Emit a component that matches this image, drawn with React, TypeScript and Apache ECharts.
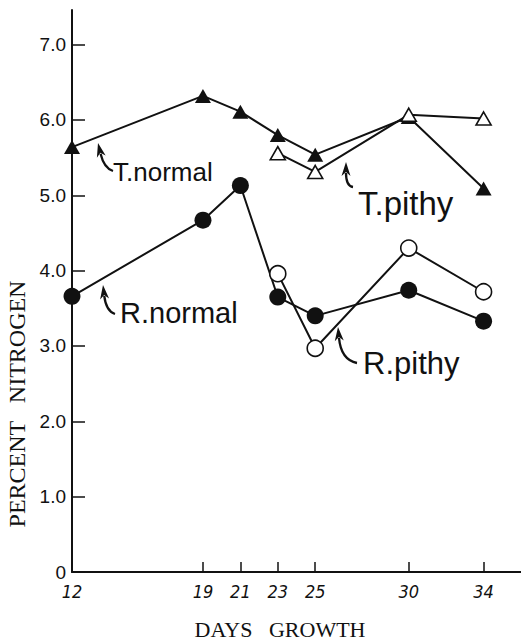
import React, { useEffect, useRef } from "react";
import * as echarts from "echarts";

const days = [12, 19, 21, 23, 25, 30, 34];
const pithyDays = [23, 25, 30, 34];
const tNormal = [5.64, 6.32, 6.11, 5.8, 5.54, 6.04, 5.09];
const tPithy = [5.56, 5.31, 6.07, 6.02];
const rNormal = [3.66, 4.67, 5.13, 3.65, 3.4, 3.74, 3.33];
const rPithy = [3.96, 2.97, 4.3, 3.72];
const yTicks = [0, 1, 2, 3, 4, 5, 6, 7];

const seriesNames = ["T.normal", "T.pithy", "R.normal", "R.pithy"];

function pairs(xs: number[], ys: number[]) {
  return xs.map((x, i) => [x, ys[i]]);
}

function arrow(tail: number[], ctrl: number[], tip: number[]) {
  const dx = tip[0] - ctrl[0];
  const dy = tip[1] - ctrl[1];
  const len = Math.sqrt(dx * dx + dy * dy);
  const ux = dx / len;
  const uy = dy / len;
  const hl = 14;
  const hw = 4.5;
  const bx = tip[0] - ux * hl;
  const by = tip[1] - uy * hl;
  return [
    {
      type: "bezierCurve",
      shape: { x1: tail[0], y1: tail[1], cpx1: ctrl[0], cpy1: ctrl[1], x2: bx + ux * 3, y2: by + uy * 3 },
      style: { stroke: "#111", lineWidth: 2.3, fill: null },
      z: 10,
    },
    {
      type: "polygon",
      shape: {
        points: [
          [tip[0], tip[1]],
          [bx - uy * hw, by + ux * hw],
          [bx + ux * 4, by + uy * 4],
          [bx + uy * hw, by - ux * hw],
        ],
      },
      style: { fill: "#111" },
      z: 10,
    },
  ];
}

const letterFont = "'Liberation Sans', 'DejaVu Sans', sans-serif";

export default function App() {
  const ref = useRef<HTMLDivElement>(null);
  useEffect(() => {
    if (!ref.current) return;
    const chart = echarts.init(ref.current, undefined, { renderer: "svg" });
    const lineStyle = { color: "#111", width: 2 };
    const filled = { color: "#111" };
    const open = { color: "#fff", borderColor: "#111", borderWidth: 1.6 };
    chart.setOption({
      animation: false,
      backgroundColor: "#fff",
      grid: { left: 72, right: 0, top: 10, bottom: 70, containLabel: false, outerBoundsMode: "none" },
      xAxis: {
        type: "value",
        min: 12,
        max: 36,
        axisLine: { show: true, lineStyle: { color: "#111", width: 2 } },
        axisTick: { show: true, inside: true, length: 10, lineStyle: { color: "#111", width: 1.5 }, customValues: days },
        axisLabel: {
          customValues: days,
          margin: 10,
          color: "#111",
          fontSize: 18,
          fontStyle: "italic",
          fontFamily: "'Liberation Sans Narrow', 'DejaVu Sans Condensed', sans-serif",
        },
        splitLine: { show: false },
      },
      yAxis: {
        type: "value",
        min: 0,
        max: 7.46,
        axisLine: { show: true, lineStyle: { color: "#111", width: 2 } },
        axisTick: { show: true, inside: true, length: 13, lineStyle: { color: "#111", width: 1.5 }, customValues: yTicks },
        axisLabel: {
          customValues: yTicks,
          margin: 6,
          color: "#111",
          fontSize: 19,
          fontFamily: letterFont,
          formatter: (v: number) => (v === 0 ? "0" : v.toFixed(1)),
        },
        splitLine: { show: false },
      },
      series: [
        {
          name: seriesNames[0],
          type: "line",
          data: pairs(days, tNormal),
          symbol: "triangle",
          symbolSize: [16, 14],
          lineStyle,
          itemStyle: filled,
        },
        {
          name: seriesNames[1],
          type: "line",
          data: pairs(pithyDays, tPithy),
          symbol: "triangle",
          symbolSize: [15, 13],
          lineStyle,
          itemStyle: open,
        },
        {
          name: seriesNames[2],
          type: "line",
          data: pairs(days, rNormal),
          symbol: "circle",
          symbolSize: 17,
          lineStyle,
          itemStyle: filled,
        },
        {
          name: seriesNames[3],
          type: "line",
          data: pairs(pithyDays, rPithy),
          symbol: "circle",
          symbolSize: 16,
          lineStyle,
          itemStyle: open,
        },
      ],
      graphic: [
        {
          type: "text",
          x: 113,
          y: 172,
          style: { text: seriesNames[0], font: `26px ${letterFont}`, fill: "#111", textAlign: "left", textVerticalAlign: "middle" },
        },
        {
          type: "text",
          x: 358,
          y: 203,
          style: { text: seriesNames[1], font: `33px ${letterFont}`, fill: "#111", textAlign: "left", textVerticalAlign: "middle" },
        },
        {
          type: "text",
          x: 120,
          y: 313,
          style: { text: seriesNames[2], font: `29px ${letterFont}`, fill: "#111", textAlign: "left", textVerticalAlign: "middle" },
        },
        {
          type: "text",
          x: 363,
          y: 363,
          style: { text: seriesNames[3], font: `31px ${letterFont}`, fill: "#111", textAlign: "left", textVerticalAlign: "middle" },
        },
        ...arrow([113, 171], [104, 168], [98, 143]),
        ...arrow([353, 187], [346, 186], [346, 162]),
        ...arrow([115, 314], [106, 311], [103, 285]),
        ...arrow([357, 363], [341, 360], [338, 327]),
        {
          type: "text",
          x: 280,
          y: 629,
          style: {
            text: "DAYS   GROWTH",
            font: "22px 'Liberation Serif', serif",
            fill: "#111",
            textAlign: "center",
            textVerticalAlign: "middle",
          },
        },
        {
          type: "text",
          x: 17,
          y: 404,
          rotation: Math.PI / 2,
          style: {
            text: "PERCENT   NITROGEN",
            font: "24px 'Liberation Serif', serif",
            fill: "#111",
            textAlign: "center",
            textVerticalAlign: "middle",
          },
        },
      ],
    });
    return () => chart.dispose();
  }, []);
  return <div ref={ref} style={{ position: "fixed", left: 0, top: 0, width: 521, height: 642 }} />;
}
